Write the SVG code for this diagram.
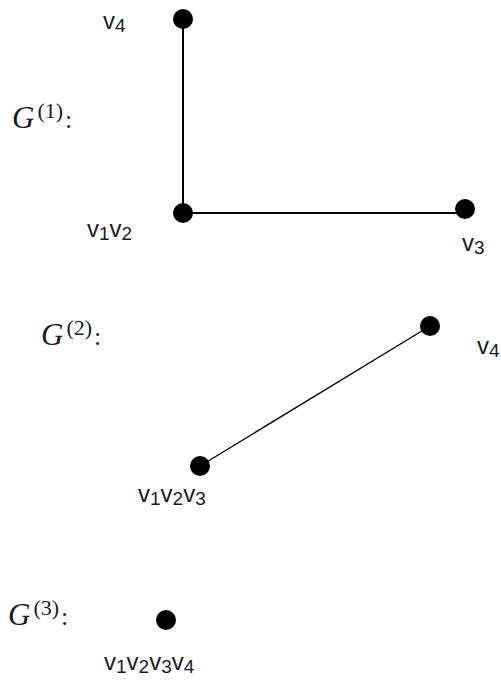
<svg xmlns="http://www.w3.org/2000/svg" width="501" height="681" viewBox="0 0 501 681">
<style>
.v{font-family:"Liberation Sans",Arial,sans-serif;font-size:24px;fill:#1a1a2a}
.s{font-size:19px}
.g{font-family:"Liberation Serif","Times New Roman",serif;font-style:italic;font-size:31px;fill:#1a1a2a}
.p{font-style:normal;font-size:22px}
.c{font-style:normal;font-size:26px}
.n{fill:#000}
.e{stroke:#000;fill:none}
</style>
<rect width="501" height="681" fill="#fff"/>
<g id="connectors">
<line class="e" x1="183" y1="19" x2="183" y2="213" stroke-width="2"/>
<line class="e" x1="183" y1="213" x2="465" y2="213" stroke-width="2"/>
<line class="e" x1="430" y1="326" x2="200" y2="466" stroke-width="1.3"/>
</g>
<g id="labels">
<text class="g" x="12" y="128">G<tspan class="p" dx="3" dy="-10">(1)</tspan><tspan class="c" dx="2" dy="10">:</tspan></text>
<text class="g" x="41" y="345">G<tspan class="p" dx="3" dy="-10">(2)</tspan><tspan class="c" dx="2" dy="10">:</tspan></text>
<text class="g" x="8" y="625">G<tspan class="p" dx="3" dy="-10">(3)</tspan><tspan class="c" dx="2" dy="10">:</tspan></text>
</g>
<g id="n1-v4"><circle class="n" cx="183" cy="19" r="10"/><text class="v" x="103" y="29">v<tspan class="s" dy="3">4</tspan></text></g>
<g id="n1-v1v2"><circle class="n" cx="183" cy="213" r="10"/><text class="v" x="87" y="237">v<tspan class="s" dy="3">1</tspan><tspan dy="-3">v</tspan><tspan class="s" dy="3">2</tspan></text></g>
<g id="n1-v3"><circle class="n" cx="465" cy="209" r="10"/><text class="v" x="462" y="251">v<tspan class="s" dy="3">3</tspan></text></g>
<g id="n2-v4"><circle class="n" cx="430" cy="326" r="10"/><text class="v" x="477" y="354">v<tspan class="s" dy="3">4</tspan></text></g>
<g id="n2-v1v2v3"><circle class="n" cx="200" cy="466" r="10"/><text class="v" x="138" y="502">v<tspan class="s" dy="3">1</tspan><tspan dy="-3">v</tspan><tspan class="s" dy="3">2</tspan><tspan dy="-3">v</tspan><tspan class="s" dy="3">3</tspan></text></g>
<g id="n3"><circle class="n" cx="166" cy="620" r="10"/><text class="v" x="104" y="670">v<tspan class="s" dy="3">1</tspan><tspan dy="-3">v</tspan><tspan class="s" dy="3">2</tspan><tspan dy="-3">v</tspan><tspan class="s" dy="3">3</tspan><tspan dy="-3">v</tspan><tspan class="s" dy="3">4</tspan></text></g>
</svg>
